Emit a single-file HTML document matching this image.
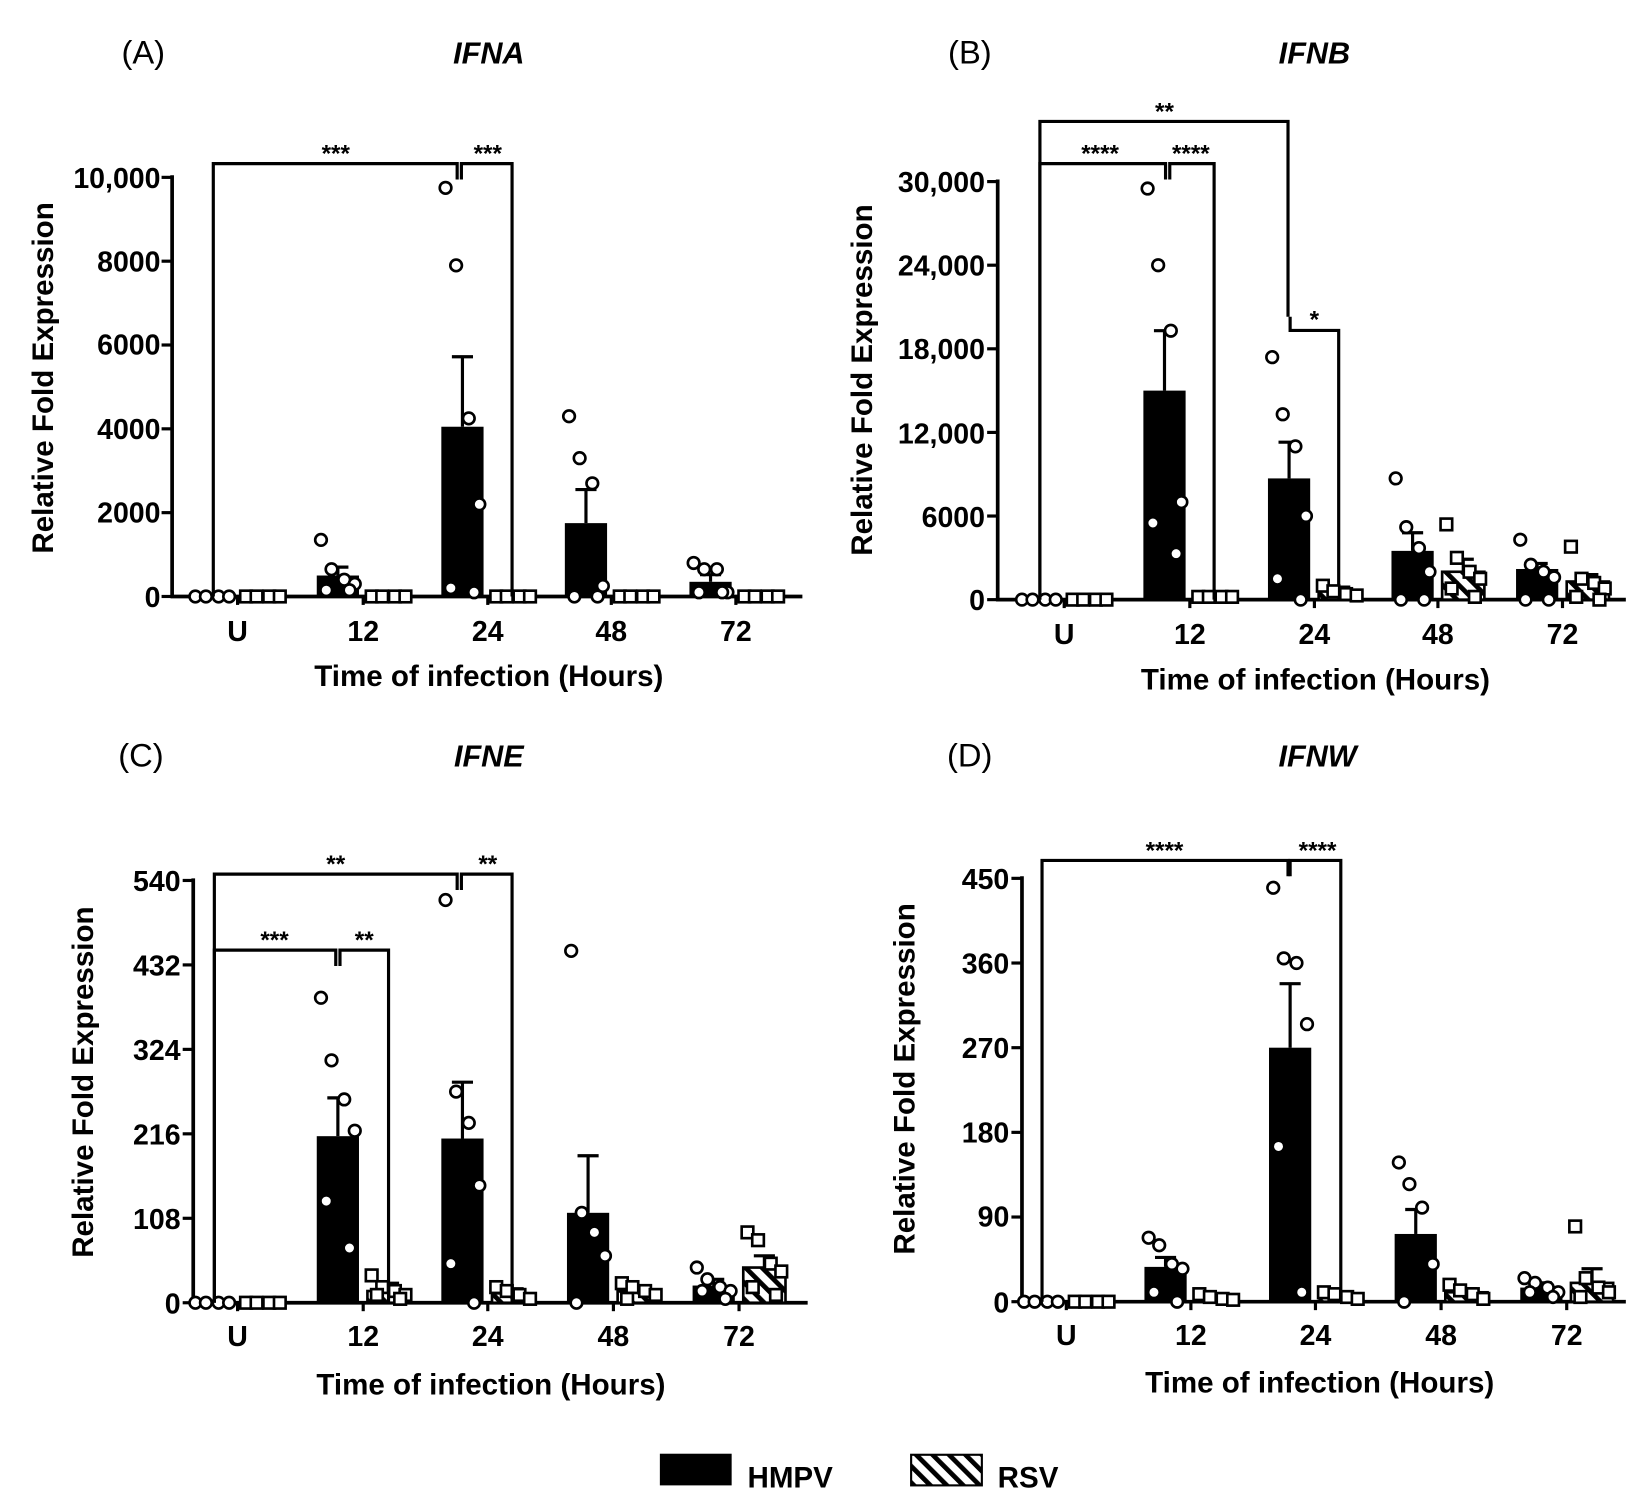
<!DOCTYPE html>
<html><head><meta charset="utf-8"><style>
html,body{margin:0;padding:0;background:#fff}
svg{display:block}
text{font-family:"Liberation Sans",Arial,sans-serif;font-weight:bold;fill:#000}
.t{font-size:27px}
.ti{font-size:29px;font-style:italic}
.pl{font-size:31px;font-weight:normal}
.ax{font-size:28px}
.st{font-size:23px}
</style></head><body>
<svg id="s" width="1647" height="1497" viewBox="0 0 1560 1418" xmlns="http://www.w3.org/2000/svg">
<defs><pattern id="h" patternUnits="userSpaceOnUse" width="11" height="11" patternTransform="rotate(-45)"><rect width="11" height="11" fill="#fff"/><rect width="4.5" height="11" fill="#000"/></pattern></defs>
<g id="g"></g>
<!-- Panel A -->
<text class="pl" x="115" y="60">(A)</text>
<text class="ti" x="463" y="60" text-anchor="middle">IFNA</text>
<g class="t" text-anchor="end">
<text x="152" y="178">10,000</text><text x="152" y="257">8000</text><text x="152" y="336">6000</text><text x="152" y="416">4000</text><text x="152" y="495">2000</text><text x="152" y="575">0</text></g>
<g class="t" text-anchor="middle"><text x="225" y="607">U</text><text x="344" y="607">12</text><text x="462" y="607">24</text><text x="579" y="607">48</text><text x="697" y="607">72</text></g>
<text class="ax" x="463" y="650" text-anchor="middle">Time of infection (Hours)</text>
<text class="ax" transform="translate(50,358) rotate(-90)" text-anchor="middle">Relative Fold Expression</text>
<text class="st" x="318" y="153" text-anchor="middle">***</text><text class="st" x="462" y="153" text-anchor="middle">***</text>
<!-- Panel B -->
<text class="pl" x="898" y="60">(B)</text>
<text class="ti" x="1245" y="60" text-anchor="middle">IFNB</text>
<g class="t" text-anchor="end">
<text x="933" y="182">30,000</text><text x="933" y="261">24,000</text><text x="933" y="340">18,000</text><text x="933" y="420">12,000</text><text x="933" y="499">6000</text><text x="933" y="578">0</text></g>
<g class="t" text-anchor="middle"><text x="1008" y="610">U</text><text x="1127" y="610">12</text><text x="1245" y="610">24</text><text x="1362" y="610">48</text><text x="1480" y="610">72</text></g>
<text class="ax" x="1246" y="653" text-anchor="middle">Time of infection (Hours)</text>
<text class="ax" transform="translate(826,360) rotate(-90)" text-anchor="middle">Relative Fold Expression</text>
<text class="st" x="1103" y="113" text-anchor="middle">**</text><text class="st" x="1042" y="153" text-anchor="middle">****</text><text class="st" x="1128" y="153" text-anchor="middle">****</text><text class="st" x="1245" y="310" text-anchor="middle">*</text>
<!-- Panel C -->
<text class="pl" x="112" y="726">(C)</text>
<text class="ti" x="463" y="726" text-anchor="middle">IFNE</text>
<g class="t" text-anchor="end">
<text x="171" y="844">540</text><text x="171" y="924">432</text><text x="171" y="1004">324</text><text x="171" y="1084">216</text><text x="171" y="1164">108</text><text x="171" y="1244">0</text></g>
<g class="t" text-anchor="middle"><text x="225" y="1275">U</text><text x="344" y="1275">12</text><text x="462" y="1275">24</text><text x="581" y="1275">48</text><text x="700" y="1275">72</text></g>
<text class="ax" x="465" y="1321" text-anchor="middle">Time of infection (Hours)</text>
<text class="ax" transform="translate(88,1025) rotate(-90)" text-anchor="middle">Relative Fold Expression</text>
<text class="st" x="318" y="826" text-anchor="middle">**</text><text class="st" x="462" y="826" text-anchor="middle">**</text><text class="st" x="260" y="898" text-anchor="middle">***</text><text class="st" x="345" y="898" text-anchor="middle">**</text>
<!-- Panel D -->
<text class="pl" x="897" y="726">(D)</text>
<text class="ti" x="1248" y="726" text-anchor="middle">IFNW</text>
<g class="t" text-anchor="end">
<text x="956" y="842">450</text><text x="956" y="922">360</text><text x="956" y="1002">270</text><text x="956" y="1082">180</text><text x="956" y="1162">90</text><text x="956" y="1243">0</text></g>
<g class="t" text-anchor="middle"><text x="1010" y="1274">U</text><text x="1128" y="1274">12</text><text x="1246" y="1274">24</text><text x="1365" y="1274">48</text><text x="1484" y="1274">72</text></g>
<text class="ax" x="1250" y="1319" text-anchor="middle">Time of infection (Hours)</text>
<text class="ax" transform="translate(866,1022) rotate(-90)" text-anchor="middle">Relative Fold Expression</text>
<text class="st" x="1103" y="813" text-anchor="middle">****</text><text class="st" x="1248" y="813" text-anchor="middle">****</text>
<!-- Legend -->
<rect x="625" y="1377" width="68" height="30" fill="#000"/>
<text class="ax" x="708" y="1409">HMPV</text>
<rect x="863" y="1378" width="67" height="29" fill="url(#h)" stroke="#000" stroke-width="2"/>
<text class="ax" x="945" y="1409">RSV</text>
</svg>
<script>
var g=document.getElementById('g'),NS='http://www.w3.org/2000/svg';
function el(t,a){var e=document.createElementNS(NS,t);for(var k in a)e.setAttribute(k,a[k]);g.appendChild(e);return e;}
function line(x1,y1,x2,y2,w){el('line',{x1:x1,y1:y1,x2:x2,y2:y2,stroke:'#000','stroke-width':w||3});}
function panel(c){
 var Y=function(v){return c.y0-v/c.max*(c.y0-c.yt);};
 line(c.x0,c.yt-2,c.x0,c.y0+1.5,3.5);line(c.x0-1.5,c.y0,c.xe,c.y0,3.5);
 for(var i=0;i<=5;i++){var yy=c.y0-(c.y0-c.yt)*i/5;line(c.x0-10,yy,c.x0,yy,3);}
 c.gx.forEach(function(gx,i){line(gx,c.y0,gx,c.y0+8,3);
  var hx=gx-24,rx=gx+24,bw=40;
  var v=c.h[i];if(v[0]>0){if(v[1]){line(hx,Y(v[1]),hx,Y(v[0]),3);line(hx-10,Y(v[1]),hx+10,Y(v[1]),3);}
   el('rect',{x:hx-bw/2,y:Y(v[0]),width:bw,height:c.y0-Y(v[0]),fill:'#000'});}
  var r=c.r[i];if(r[0]>0){if(r[1]){line(rx,Y(r[1]),rx,Y(r[0]),3);line(rx-10,Y(r[1]),rx+10,Y(r[1]),3);}
   el('rect',{x:rx-bw/2,y:Y(r[0]),width:bw,height:Math.max(0,c.y0-Y(r[0])),fill:'url(#h)',stroke:'#000','stroke-width':2.5});}
  var hp=c.hp[i],rp=c.rp[i],off=[-16,-6,6,16,-11,11];
  hp.forEach(function(p,j){el('circle',{cx:hx+off[j%6],cy:Y(p),r:5.5,fill:'#fff',stroke:'#000','stroke-width':2.5});});
  rp.forEach(function(p,j){el('rect',{x:rx+off[j%6]-5.5,y:Y(p)-5.5,width:11,height:11,fill:'#fff',stroke:'#000','stroke-width':2.5});});
 });
 c.br.forEach(function(b){var p='M'+b[0]+' '+b[1]+' V'+b[2]+' H'+b[3]+' V'+b[4];el('path',{d:p,fill:'none',stroke:'#000','stroke-width':3});});
}
var z=[0,0,0,0];
panel({x0:163,y0:565,yt:168,max:10000,xe:760,gx:[225,344,462,579,697],
 h:[[0],[500,700],[4050,5720],[1750,2550],[350,520]],r:[[0],[0],[0],[0],[0]],
 hp:[z,[1350,650,400,300,150,150],[9750,7900,4250,2200,200,100],[4300,3300,2700,250,0,0],[800,650,650,100,100,100]],
 rp:[z,z,z,z,z],
 br:[[202,565,155,433,170],[437,170,155,485,565]]});
panel({x0:945,y0:568,yt:172,max:30000,xe:1540,gx:[1008,1127,1245,1362,1480],
 h:[[0],[15000,19300],[8700,11300],[3500,4800],[2200,2600]],r:[[0],[200],[600,900],[2000,2900],[1300,1800]],
 hp:[z,[29500,24000,19300,7000,5500,3300],[17400,13300,11000,6000,1500,0],[8700,5200,3700,2000,0,0],[4300,2500,2000,1600,0,0]],
 rp:[z,[200,200,200,200],[1000,600,400,300],[5400,3000,2000,1500,800,200],[3800,1500,1200,800,200,0]],
 br:[[985,568,115,1220,300],[985,568,155,1104,170],[1108,170,155,1150,568],[1222,300,313,1268,555]]});
panel({x0:183,y0:1234,yt:834,max:540,xe:765,gx:[225,344,462,581,700],
 h:[[0],[213,262],[210,282],[115,188],[22,30]],r:[[0],[15,25],[12,18],[15,22],[45,60]],
 hp:[z,[390,310,260,220,130,70],[515,270,230,150,50,0],[450,115,90,60,0],[45,30,20,15,15,5]],
 rp:[z,[35,20,15,10,10,5],[20,15,10,5],[25,20,15,10,5],[90,80,50,40,20,10]],
 br:[[203,1234,828,433,843],[437,843,828,485,1234],[203,1234,900,318,915],[322,915,900,368,1234]]});
panel({x0:968,y0:1233,yt:832,max:450,xe:1540,gx:[1010,1128,1246,1365,1484],
 h:[[0],[37,47],[270,338],[72,98],[15,20]],r:[[0],[5],[5],[10,14],[20,35]],
 hp:[z,[68,60,40,35,10,0],[440,365,360,295,165,10],[148,125,100,40,0],[25,20,15,10,10,5]],
 rp:[z,[8,5,3,2],[10,8,5,3],[18,12,8,3],[80,25,15,10,5]],
 br:[[987,1233,815,1220,830],[1222,830,815,1270,1233]]});
</script>
</body></html>
